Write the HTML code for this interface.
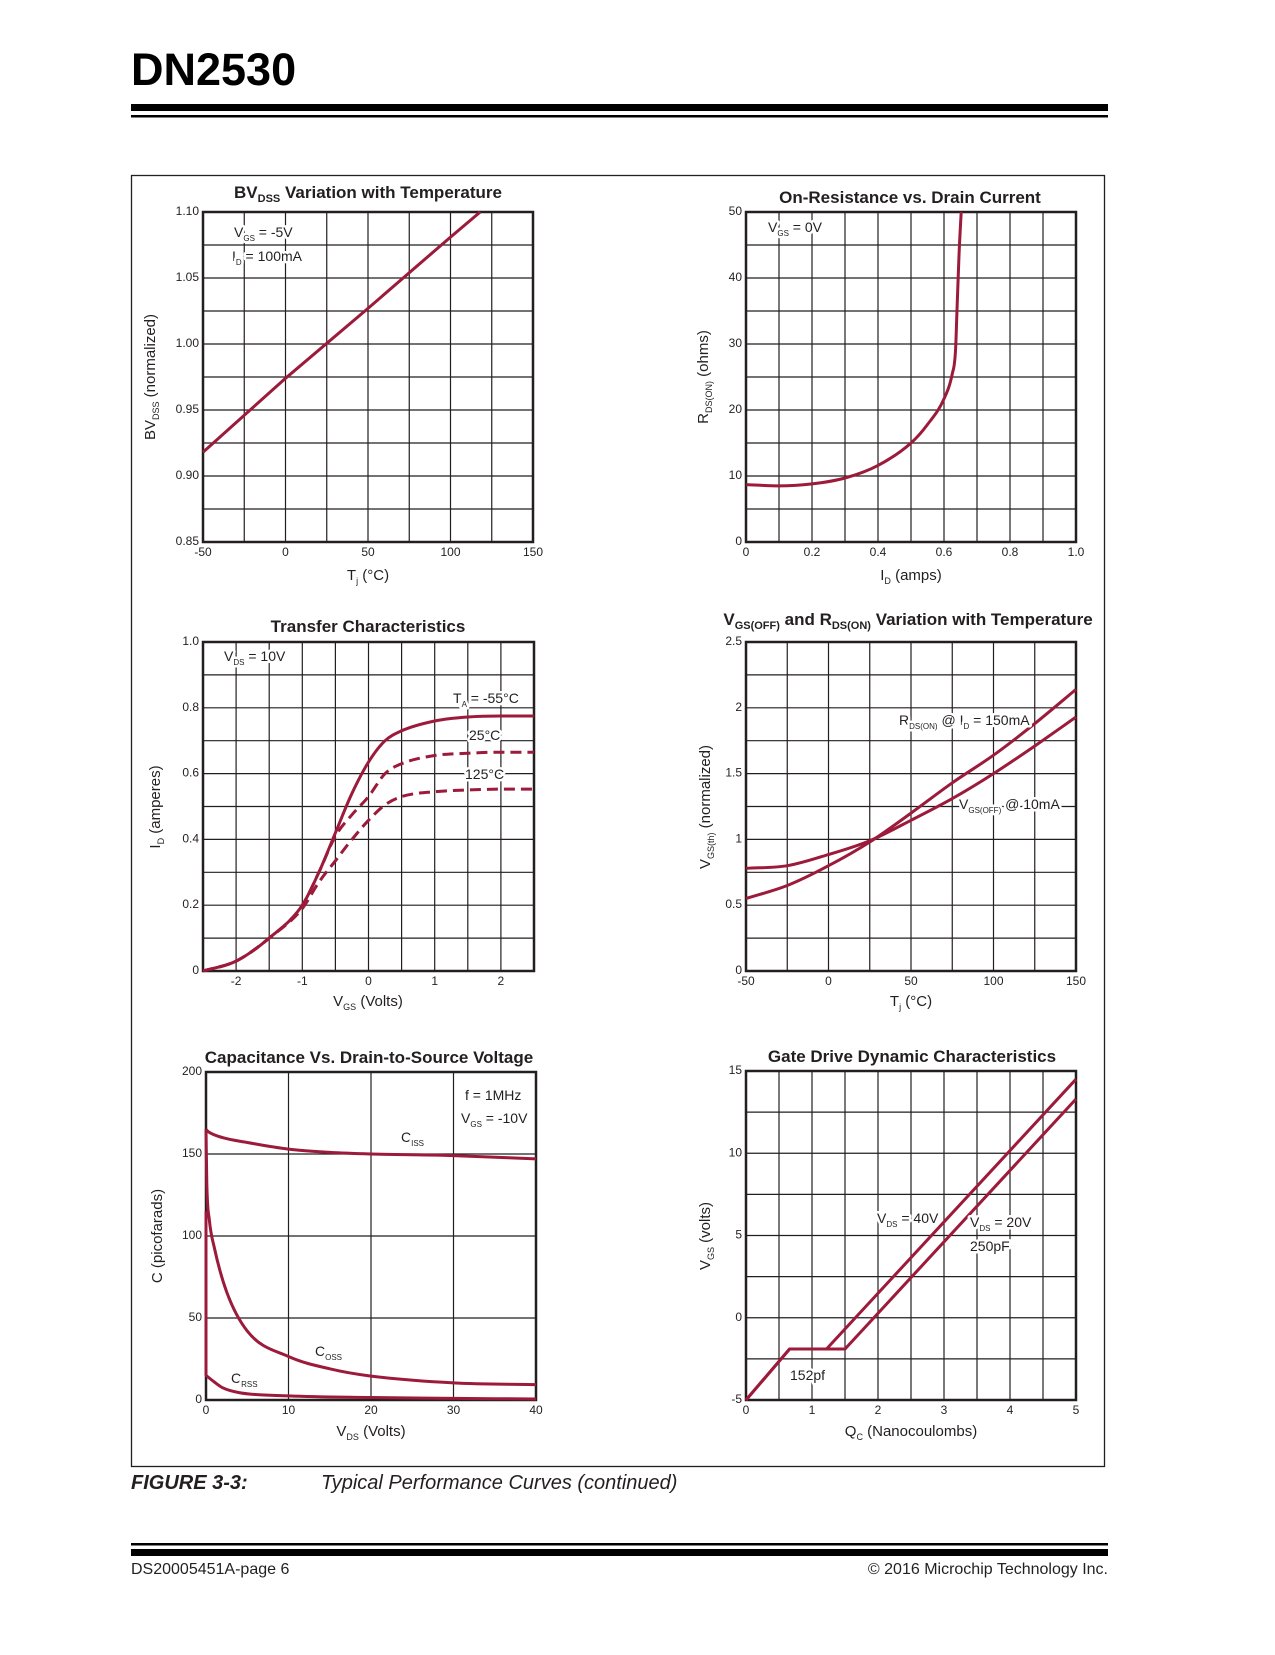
<!DOCTYPE html>
<html>
<head>
<meta charset="utf-8">
<style>
html,body{margin:0;padding:0;background:#fff;}
body{width:1275px;height:1650px;position:relative;overflow:hidden;font-family:"Liberation Sans",Arial,sans-serif;}
svg text{font-family:"Liberation Sans",Arial,sans-serif;fill:#231f20;}
.t{font-size:17px;font-weight:bold;text-anchor:middle;}
.ax{font-size:15px;text-anchor:middle;}
.an{font-size:14px;stroke:#fff;stroke-width:5px;paint-order:stroke;stroke-linejoin:round;}
.tk{font-size:12px;}
</style>
</head>
<body>
<svg id="page-svg" width="1275" height="1650" viewBox="0 0 1275 1650" xmlns="http://www.w3.org/2000/svg">
  <text x="131" y="85" style="font-size:45px;font-weight:bold;fill:#000">DN2530</text>
  <rect x="131" y="104" width="977" height="7" fill="#000"/>
  <rect x="131" y="115" width="977" height="2.5" fill="#000"/>
  <rect x="131.5" y="175.5" width="973" height="1291" fill="none" stroke="#231f20" stroke-width="1.3"/>

  <g id="charts"></g>

  <text class="t" x="368" y="198">BV<tspan font-size="11" dy="4">DSS</tspan><tspan dy="-4"> Variation with Temperature</tspan></text>
  <text class="t" x="910" y="203">On-Resistance vs. Drain Current</text>
  <text class="t" x="368" y="632">Transfer Characteristics</text>
  <text class="t" x="908" y="625">V<tspan font-size="11" dy="4">GS(OFF)</tspan><tspan dy="-4"> and R</tspan><tspan font-size="11" dy="4">DS(ON)</tspan><tspan dy="-4"> Variation with Temperature</tspan></text>
  <text class="t" x="369" y="1063">Capacitance Vs. Drain-to-Source Voltage</text>
  <text class="t" x="912" y="1062">Gate Drive Dynamic Characteristics</text>

  <text class="ax" x="368" y="580">T<tspan font-size="9" dy="4">j</tspan><tspan dy="-4"> (°C)</tspan></text>
  <text class="ax" transform="translate(155,377) rotate(-90)">BV<tspan font-size="9" dy="4">DSS</tspan><tspan dy="-4"> (normalized)</tspan></text>
  <text class="ax" x="911" y="580">I<tspan font-size="9" dy="4">D</tspan><tspan dy="-4"> (amps)</tspan></text>
  <text class="ax" transform="translate(708,377) rotate(-90)">R<tspan font-size="9" dy="4">DS(ON)</tspan><tspan dy="-4"> (ohms)</tspan></text>
  <text class="ax" x="368" y="1006">V<tspan font-size="9" dy="4">GS</tspan><tspan dy="-4"> (Volts)</tspan></text>
  <text class="ax" transform="translate(160,807) rotate(-90)">I<tspan font-size="9" dy="4">D</tspan><tspan dy="-4"> (amperes)</tspan></text>
  <text class="ax" x="911" y="1006">T<tspan font-size="9" dy="4">j</tspan><tspan dy="-4"> (°C)</tspan></text>
  <text class="ax" transform="translate(710,807) rotate(-90)">V<tspan font-size="9" dy="4">GS(th)</tspan><tspan dy="-4"> (normalized)</tspan></text>
  <text class="ax" x="371" y="1436">V<tspan font-size="9" dy="4">DS</tspan><tspan dy="-4"> (Volts)</tspan></text>
  <text class="ax" transform="translate(162,1236) rotate(-90)">C (picofarads)</text>
  <text class="ax" x="911" y="1436">Q<tspan font-size="9" dy="4">C</tspan><tspan dy="-4"> (Nanocoulombs)</tspan></text>
  <text class="ax" transform="translate(710,1236) rotate(-90)">V<tspan font-size="9" dy="4">GS</tspan><tspan dy="-4"> (volts)</tspan></text>

  <text class="an" x="234" y="237">V<tspan font-size="8" dy="4">GS</tspan><tspan dy="-4"> = -5V</tspan></text>
  <text class="an" x="232" y="261">I<tspan font-size="8" dy="4">D</tspan><tspan dy="-4"> = 100mA</tspan></text>
  <text class="an" x="768" y="232">V<tspan font-size="8" dy="4">GS</tspan><tspan dy="-4"> = 0V</tspan></text>
  <text class="an" x="224" y="661">V<tspan font-size="8" dy="4">DS</tspan><tspan dy="-4"> = 10V</tspan></text>
  <text class="an" x="453" y="703">T<tspan font-size="8" dy="4">A</tspan><tspan dy="-4"> = -55°C</tspan></text>
  <text class="an" x="469" y="740">25°C</text>
  <text class="an" x="465" y="779">125°C</text>
  <text class="an" x="899" y="725">R<tspan font-size="8" dy="4">DS(ON)</tspan><tspan dy="-4"> @ I</tspan><tspan font-size="8" dy="4">D</tspan><tspan dy="-4"> = 150mA</tspan></text>
  <text class="an" x="959" y="809">V<tspan font-size="8" dy="4">GS(OFF)</tspan><tspan dy="-4"> @ 10mA</tspan></text>
  <text class="an" x="465" y="1100">f = 1MHz</text>
  <text class="an" x="461" y="1123">V<tspan font-size="8" dy="4">GS</tspan><tspan dy="-4"> = -10V</tspan></text>
  <text class="an" x="401" y="1142">C<tspan font-size="8" dy="4">ISS</tspan></text>
  <text class="an" x="315" y="1356">C<tspan font-size="8" dy="4">OSS</tspan></text>
  <text class="an" x="231" y="1383">C<tspan font-size="8" dy="4">RSS</tspan></text>
  <text class="an" x="877" y="1223">V<tspan font-size="8" dy="4">DS</tspan><tspan dy="-4"> = 40V</tspan></text>
  <text class="an" x="970" y="1227">V<tspan font-size="8" dy="4">DS</tspan><tspan dy="-4"> = 20V</tspan></text>
  <text class="an" x="970" y="1251">250pF</text>
  <text class="an" x="790" y="1380">152pf</text>

  <text x="131" y="1489" style="font-size:20px;font-weight:bold;font-style:italic">FIGURE 3-3:</text>
  <text x="321" y="1489" style="font-size:20px;font-style:italic">Typical Performance Curves (continued)</text>
  <rect x="131" y="1543" width="977" height="2.5" fill="#000"/>
  <rect x="131" y="1549" width="977" height="7" fill="#000"/>
  <text x="131" y="1574" style="font-size:16px">DS20005451A-page 6</text>
  <text x="1108" y="1574" text-anchor="end" style="font-size:16px">© 2016 Microchip Technology Inc.</text>
</svg>
<script>
// ---- chart 1: BVDSS vs temperature
const bvTemp = [-50, 0, 50, 100, 118];
const bvValue = [0.918, 0.974, 1.027, 1.081, 1.10];
const bvXTicks = ["-50", "0", "50", "100", "150"];
const bvYTicks = ["0.85", "0.90", "0.95", "1.00", "1.05", "1.10"];
// ---- chart 2: RDS(on) vs drain current
const rdsCurrent = [0, 0.1, 0.2, 0.3, 0.4, 0.5, 0.55, 0.6, 0.625, 0.635, 0.64, 0.645, 0.652];
const rdsOhms = [8.7, 8.5, 8.8, 9.7, 11.6, 15, 17.8, 21.7, 25.5, 29, 36, 43, 50];
const rdsXTicks = ["0", "0.2", "0.4", "0.6", "0.8", "1.0"];
const rdsYTicks = ["0", "10", "20", "30", "40", "50"];
// ---- chart 3: transfer characteristics
const vgsSteps = [-2.5, -2, -1.5, -1, -0.75, -0.5, -0.25, 0, 0.25, 0.5, 1, 1.5, 2, 2.5];
const idMinus55 = [0, 0.03, 0.1, 0.2, 0.3, 0.42, 0.54, 0.635, 0.7, 0.73, 0.76, 0.772, 0.775, 0.775];
const id25 = [0, 0.03, 0.1, 0.2, 0.3, 0.41, 0.475, 0.53, 0.6, 0.63, 0.655, 0.662, 0.665, 0.665];
const id125 = [0, 0.03, 0.1, 0.19, 0.27, 0.335, 0.4, 0.458, 0.505, 0.53, 0.545, 0.55, 0.553, 0.553];
const trXTicks = ["-2", "-1", "0", "1", "2"];
const trYTicks = ["0", "0.2", "0.4", "0.6", "0.8", "1.0"];
// ---- chart 4: VGS(off) and RDS(on) vs temperature
const tjSteps = [-50, -25, 0, 25, 50, 75, 100, 125, 150];
const rdsNorm = [0.55, 0.65, 0.8, 0.98, 1.2, 1.43, 1.64, 1.88, 2.14];
const vgsOffNorm = [0.78, 0.8, 0.885, 0.99, 1.145, 1.31, 1.5, 1.71, 1.93];
const tmXTicks = ["-50", "0", "50", "100", "150"];
const tmYTicks = ["0", "0.5", "1", "1.5", "2", "2.5"];
// ---- chart 5: capacitance vs VDS
const cissV = [0, 0.3, 2, 5, 10, 15, 20, 30, 40];
const cissC = [165, 163.5, 160, 157, 153, 151, 150, 149, 147];
const cossV = [0, 0.1, 0.4, 1, 2.5, 5, 10, 15, 20, 30, 40];
const cossC = [165, 132, 110, 93, 66, 42, 26.5, 19, 14.6, 10.4, 9.4];
const crssV = [0, 0, 1, 2, 4, 10, 20, 30, 40];
const crssC = [115, 15, 11, 7.5, 4.5, 2.5, 1.5, 1, 0.6];
const capXTicks = ["0", "10", "20", "30", "40"];
const capYTicks = ["0", "50", "100", "150", "200"];
// ---- chart 6: gate charge
const q40 = [0, 0.66, 1.22, 5];
const v40 = [-5, -1.9, -1.9, 14.5];
const q20 = [0, 0.66, 1.5, 5];
const v20 = [-5, -1.9, -1.9, 13.3];
const gXTicks = ["0", "1", "2", "3", "4", "5"];
const gYTicks = ["-5", "0", "5", "10", "15"];

const NS = "http://www.w3.org/2000/svg";
const root = document.getElementById("charts");
const RED = "#9c1a3a";

function mk(tag, parent) { const e = document.createElementNS(NS, tag); parent.appendChild(e); return e; }

function makeChart(name, box, xr, yr, cols, rows, xTicks, yTicks) {
  const g = mk("g", root);
  
  
  const sx = v => box.x0 + (v - xr[0]) / (xr[1] - xr[0]) * (box.x1 - box.x0);
  const sy = v => box.y1 - (v - yr[0]) / (yr[1] - yr[0]) * (box.y1 - box.y0);
  for (let i = 1; i < cols; i++) {
    const x = box.x0 + i * (box.x1 - box.x0) / cols;
    const l = mk("line", g);
    
    
    l.setAttribute("x1", x); l.setAttribute("x2", x); l.setAttribute("y1", box.y0); l.setAttribute("y2", box.y1);
    l.setAttribute("stroke", "#231f20"); l.setAttribute("stroke-width", "1.2");
  }
  for (let i = 1; i < rows; i++) {
    const y = box.y0 + i * (box.y1 - box.y0) / rows;
    const l = mk("line", g);
    
    
    l.setAttribute("x1", box.x0); l.setAttribute("x2", box.x1); l.setAttribute("y1", y); l.setAttribute("y2", y);
    l.setAttribute("stroke", "#231f20"); l.setAttribute("stroke-width", "1.2");
  }
  const r = mk("rect", g);
  
  
  r.setAttribute("x", box.x0); r.setAttribute("y", box.y0);
  r.setAttribute("width", box.x1 - box.x0); r.setAttribute("height", box.y1 - box.y0);
  r.setAttribute("fill", "none"); r.setAttribute("stroke", "#231f20"); r.setAttribute("stroke-width", "2.5");
  xTicks.forEach(s => {
    const t = mk("text", g);
    
    
    t.setAttribute("class", "tk"); t.setAttribute("text-anchor", "middle");
    t.setAttribute("x", sx(parseFloat(s))); t.setAttribute("y", box.y1 + 14);
    t.textContent = s;
  });
  yTicks.forEach(s => {
    const t = mk("text", g);
    
    
    t.setAttribute("class", "tk"); t.setAttribute("text-anchor", "end");
    t.setAttribute("x", box.x0 - 4); t.setAttribute("y", sy(parseFloat(s)) + 3);
    t.textContent = s;
  });
  return { g, sx, sy };
}

function monoRun(p) {
  const n = p.length;
  if (n < 3) return p.slice(1).map(q => " L" + q[0].toFixed(1) + "," + q[1].toFixed(1)).join("");
  const d = [], m = [];
  for (let i = 0; i < n - 1; i++) d.push((p[i + 1][1] - p[i][1]) / (p[i + 1][0] - p[i][0]));
  m[0] = d[0]; m[n - 1] = d[n - 2];
  for (let i = 1; i < n - 1; i++) m[i] = (d[i - 1] * d[i] <= 0) ? 0 : (d[i - 1] + d[i]) / 2;
  for (let i = 0; i < n - 1; i++) {
    if (d[i] === 0) { m[i] = 0; m[i + 1] = 0; continue; }
    const a = m[i] / d[i], b = m[i + 1] / d[i], s = a * a + b * b;
    if (s > 9) { const t = 3 / Math.sqrt(s); m[i] = t * a * d[i]; m[i + 1] = t * b * d[i]; }
  }
  let out = "";
  for (let i = 0; i < n - 1; i++) {
    const h = (p[i + 1][0] - p[i][0]) / 3;
    out += " C" + (p[i][0] + h).toFixed(1) + "," + (p[i][1] + m[i] * h).toFixed(1) + " " +
      (p[i + 1][0] - h).toFixed(1) + "," + (p[i + 1][1] - m[i + 1] * h).toFixed(1) + " " +
      p[i + 1][0].toFixed(1) + "," + p[i + 1][1].toFixed(1);
  }
  return out;
}

function pathD(xs, ys, c, smooth) {
  const p = xs.map((x, i) => [c.sx(x), c.sy(ys[i])]);
  let d = "M" + p[0][0].toFixed(1) + "," + p[0][1].toFixed(1);
  if (!smooth) { for (let i = 1; i < p.length; i++) d += " L" + p[i][0].toFixed(1) + "," + p[i][1].toFixed(1); return d; }
  let run = [p[0]];
  for (let i = 1; i < p.length; i++) {
    if (p[i][0] - p[i - 1][0] < 0.01) {
      d += monoRun(run);
      d += " L" + p[i][0].toFixed(1) + "," + p[i][1].toFixed(1);
      run = [p[i]];
    } else run.push(p[i]);
  }
  d += monoRun(run);
  return d;
}

function series(c, xs, ys, smooth, dashed, nm) {
  const p = mk("path", c.g);
  
  
  p.setAttribute("d", pathD(xs, ys, c, smooth));
  p.setAttribute("fill", "none"); p.setAttribute("stroke", RED); p.setAttribute("stroke-width", "3");
  p.setAttribute("stroke-linejoin", "round");
  if (dashed) p.setAttribute("stroke-dasharray", "11,6");
}

const c1 = makeChart("bvdss-vs-temperature-chart", {x0:203, x1:533, y0:212, y1:542}, [-50,150], [0.85,1.10], 8, 10, bvXTicks, bvYTicks);
series(c1, bvTemp, bvValue, false, false, "bvdss-line");

const c2 = makeChart("on-resistance-vs-current-chart", {x0:746, x1:1076, y0:212, y1:542}, [0,1], [0,50], 10, 10, rdsXTicks, rdsYTicks);
series(c2, rdsCurrent, rdsOhms, true, false, "rds-on-curve");

const c3 = makeChart("transfer-characteristics-chart", {x0:203, x1:534, y0:642, y1:971}, [-2.5,2.5], [0,1], 10, 10, trXTicks, trYTicks);
series(c3, vgsSteps, idMinus55, true, false, "id-minus55c-curve");
series(c3, vgsSteps, id25, true, true, "id-25c-curve");
series(c3, vgsSteps, id125, true, true, "id-125c-curve");

const c4 = makeChart("vgs-rds-temperature-chart", {x0:746, x1:1076, y0:642, y1:971}, [-50,150], [0,2.5], 8, 10, tmXTicks, tmYTicks);
series(c4, tjSteps, rdsNorm, true, false, "rds-on-normalized-curve");
series(c4, tjSteps, vgsOffNorm, true, false, "vgs-off-normalized-curve");

const c5 = makeChart("capacitance-chart", {x0:206, x1:536, y0:1072, y1:1400}, [0,40], [0,200], 4, 4, capXTicks, capYTicks);
series(c5, cissV, cissC, true, false, "ciss-curve");
series(c5, cossV, cossC, true, false, "coss-curve");
series(c5, crssV, crssC, true, false, "crss-curve");

const c6 = makeChart("gate-drive-chart", {x0:746, x1:1076, y0:1071, y1:1400}, [0,5], [-5,15], 10, 8, gXTicks, gYTicks);
series(c6, q40, v40, false, false, "gate-vds40-line");
series(c6, q20, v20, false, false, "gate-vds20-line");
</script>
</body>
</html>
